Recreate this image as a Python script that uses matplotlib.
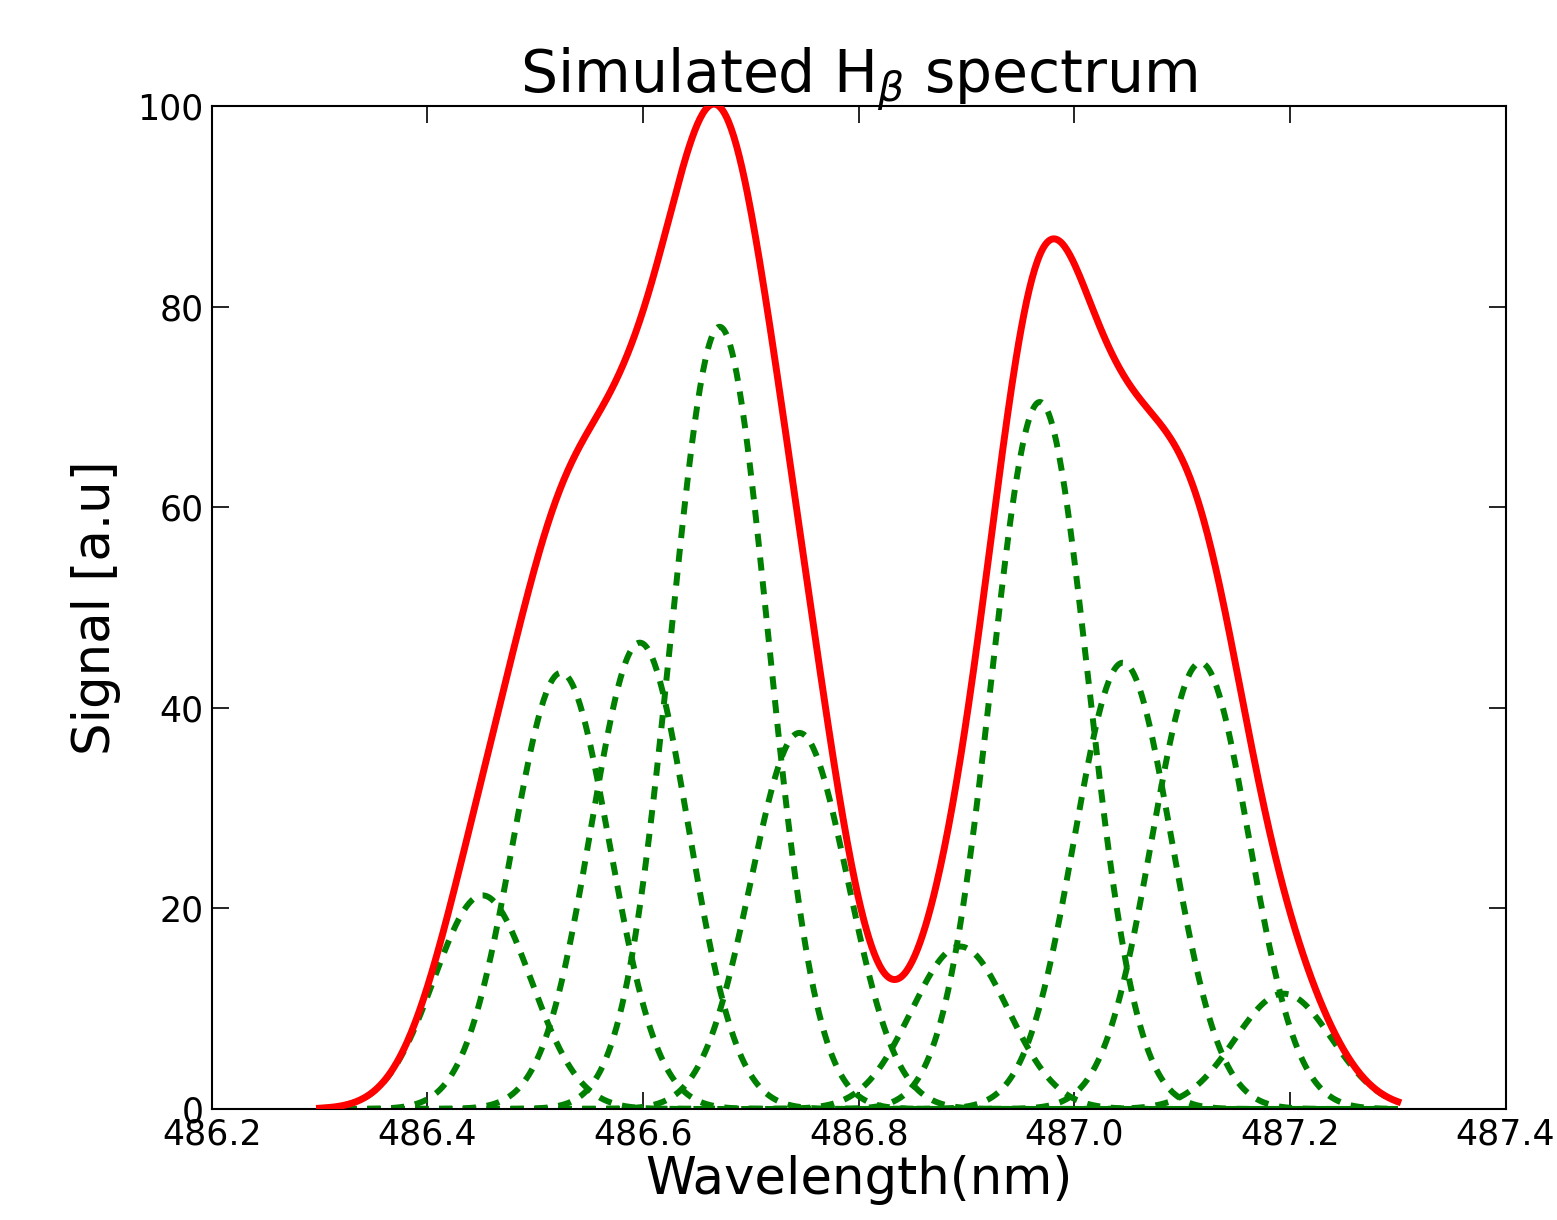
import numpy as np
import matplotlib
matplotlib.use("Agg")
from matplotlib import pyplot as plt

# line components (nm, a.u.)
centers = [486.451, 486.524, 486.597, 486.671, 486.745,
           486.894, 486.968, 487.045, 487.117, 487.194]
heights = [21.3, 43.5, 46.5, 78.0, 37.5, 16.2, 70.5, 44.5, 44.5, 11.5]
sigma = 0.045
wl_range = (486.3, 487.3)
x_ticks = [486.2, 486.4, 486.6, 486.8, 487.0, 487.2, 487.4]
y_ticks = [0, 20, 40, 60, 80, 100]

wl = np.linspace(wl_range[0], wl_range[1], 800)
components = [h * np.exp(-0.5 * ((wl - c) / sigma) ** 2) for c, h in zip(centers, heights)]
total = np.sum(components, axis=0)

fig = plt.figure(figsize=(15.57, 12.2), dpi=100)
ax = fig.add_axes([0.136, 0.091, 0.831, 0.822])

for comp in components:
    ax.plot(wl, comp, color='green', lw=4.3, linestyle=(0, (2.2, 1.8)), zorder=2)
ax.plot(wl, total, color='red', lw=5, zorder=3)

ax.set_xlim(486.2, 487.4)
ax.set_ylim(0, 100)
ax.set_xticks(x_ticks)
ax.set_xticklabels(['%.1f' % t for t in x_ticks])
ax.set_yticks(y_ticks)
ax.tick_params(direction='in', top=True, right=True, length=12, width=1.2,
               labelsize=25, pad=6)
for s in ax.spines.values():
    s.set_linewidth(1.5)

ax.set_xlabel('Wavelength(nm)', fontsize=37, labelpad=3)
ax.set_ylabel('Signal [a.u]', fontsize=37, labelpad=12)
ax.text(0.5, 1.013, r'Simulated H$_\beta$ spectrum', fontsize=42,
        ha='center', va='baseline', transform=ax.transAxes)

fig.savefig('out.png', dpi=100, facecolor='white')
